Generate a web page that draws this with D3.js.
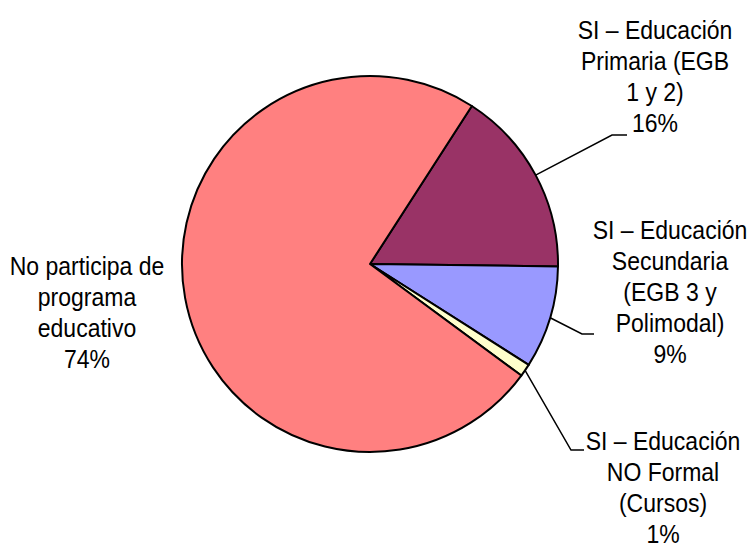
<!DOCTYPE html>
<html>
<head>
<meta charset="utf-8">
<script src="https://cdn.jsdelivr.net/npm/d3@7"></script>
<style>
  body { margin: 0; background: #fff; }
  text { font-family: "Liberation Sans", Arial, sans-serif; fill: #000; }
</style>
</head>
<body>
<script>
// data
var categories = ["SI – Educación Primaria (EGB 1 y 2)", "SI – Educación Secundaria (EGB 3 y Polimodal)", "SI – Educación NO Formal (Cursos)", "No participa de programa educativo"];
var values = [16.1, 8.8, 1.1, 74.0];
var labelLines = [
    ["SI – Educación", "Primaria (EGB", "1 y 2)"],
    ["SI – Educación", "Secundaria", "(EGB 3 y", "Polimodal)"],
    ["SI – Educación", "NO Formal", "(Cursos)"],
    ["No participa de", "programa", "educativo"]
];
var colors = ["#993366", "#9999FF", "#FFFFCC", "#FF8080"];

var w = 751;
var h = 547;
var cx = 370, cy = 264, r = 188;
var startDeg = 32.8;

// label layout: text block centre x, first baseline y, leader elbow and end
var labelPos = [
    { x: 655, y: 39, elbow: [612, 135], end: [627, 135] },
    { x: 670, y: 239, elbow: [582, 334], end: [594, 334] },
    { x: 663, y: 450, elbow: [571, 450], end: [584, 450] },
    { x: 87, y: 275, elbow: null, end: null }
];

var svg = d3.select('body')
    .append('svg')
    .attr('width', w)
    .attr('height', h);

var pie = d3.pie()
    .sort(null)
    .value(d => d)
    .startAngle(startDeg * Math.PI / 180)
    .endAngle(startDeg * Math.PI / 180 + 2 * Math.PI);

var arcs = pie(values);

var arc = d3.arc()
    .innerRadius(0)
    .outerRadius(r);

var g = svg.append('g')
    .attr('transform', 'translate(' + cx + ',' + cy + ')');

g.selectAll('path')
    .data(arcs)
    .enter()
    .append('path')
    .attr('d', arc)
    .attr('fill', (d, i) => colors[i])
    .attr('stroke', '#000')
    .attr('stroke-width', 2)
    .attr('stroke-linejoin', 'round');

// leader lines
arcs.forEach(function(d, i) {
    var p = labelPos[i];
    if (!p.elbow) return;
    var a = (d.startAngle + d.endAngle) / 2;
    var sx = cx + r * Math.sin(a);
    var sy = cy - r * Math.cos(a);
    svg.append('polyline')
        .attr('points', [[sx, sy], p.elbow, p.end].map(q => q.join(',')).join(' '))
        .attr('fill', 'none')
        .attr('stroke', '#000')
        .attr('stroke-width', 1.5);
});

// labels
var fontSize = 23, stretch = 1.13, lineH = 31;
arcs.forEach(function(d, i) {
    var p = labelPos[i];
    var lines = labelLines[i].concat([Math.round(d.value) + '%']);
    var t = svg.append('text')
        .attr('transform', 'translate(' + p.x + ',' + p.y + ') scale(1,' + stretch + ')')
        .attr('text-anchor', 'middle')
        .attr('font-size', fontSize);
    lines.forEach(function(s, k) {
        t.append('tspan')
            .attr('x', 0)
            .attr('y', k * lineH / stretch)
            .text(s);
    });
});
</script>
</body>
</html>
